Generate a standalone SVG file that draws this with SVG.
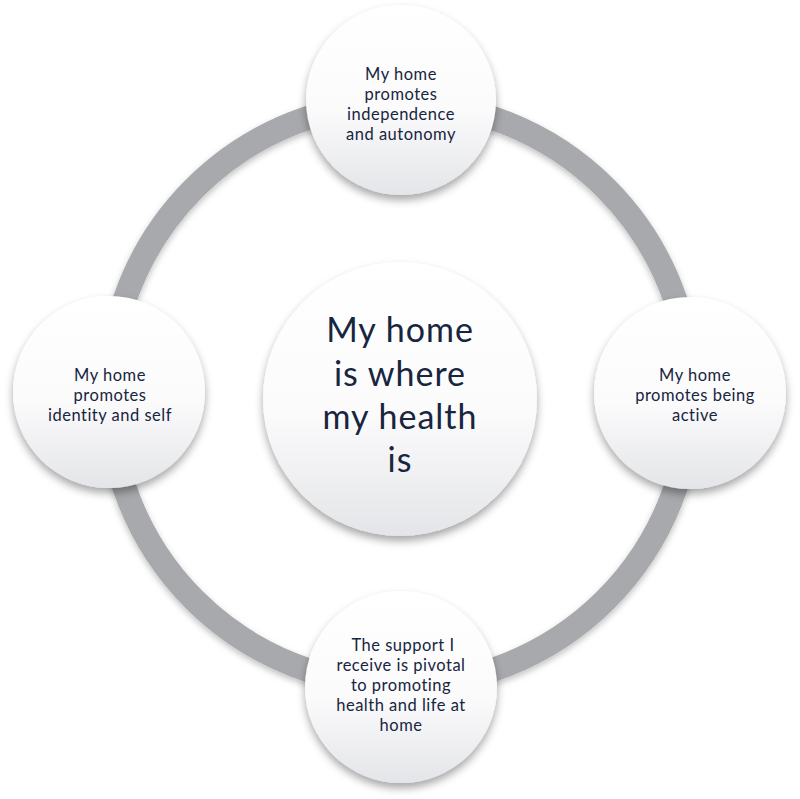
<svg xmlns="http://www.w3.org/2000/svg" width="800" height="799" viewBox="0 0 800 799">
<style>
.bubble{fill:url(#bg);filter:url(#sh);}
.t{font-family:Lato,"Open Sans","Liberation Sans",sans-serif;fill:#17253f;text-anchor:middle;font-size:16.5px;letter-spacing:0.5px;}
.big{font-size:34px;letter-spacing:1px;}
</style>
<defs>
<linearGradient id="bg" x1="0" y1="0" x2="0" y2="1">
<stop offset="0" stop-color="#ffffff"/>
<stop offset="0.55" stop-color="#fbfbfc"/>
<stop offset="1" stop-color="#e4e5e8"/>
</linearGradient>
<filter id="sh" x="-20%" y="-20%" width="140%" height="150%">
<feDropShadow dx="0" dy="5" stdDeviation="4" flood-color="#000" flood-opacity="0.35"/>
</filter>
<filter id="rsh" x="-10%" y="-10%" width="120%" height="120%">
<feDropShadow dx="0" dy="3" stdDeviation="3" flood-color="#000" flood-opacity="0.25"/>
</filter>
</defs>
<rect width="800" height="799" fill="#ffffff"/>
<g id="connectors">
<circle cx="400" cy="394" r="291" fill="none" stroke="#a8a9ac" stroke-width="24" filter="url(#rsh)"/>
</g>
<g id="node-top">
<circle class="bubble" cx="401" cy="100" r="95"/>
<text class="t" x="401" y="80"><tspan x="401">My home</tspan><tspan x="401" dy="20">promotes</tspan><tspan x="401" dy="20">independence</tspan><tspan x="401" dy="20">and autonomy</tspan></text>
</g>
<g id="node-left">
<circle class="bubble" cx="109" cy="392" r="96"/>
<text class="t" x="110" y="381"><tspan x="110">My home</tspan><tspan x="110" dy="20">promotes</tspan><tspan x="110" dy="20">identity and self</tspan></text>
</g>
<g id="node-right">
<circle class="bubble" cx="690" cy="393" r="96"/>
<text class="t" x="695" y="381"><tspan x="695">My home</tspan><tspan x="695" dy="20">promotes being</tspan><tspan x="695" dy="20">active</tspan></text>
</g>
<g id="node-bottom">
<circle class="bubble" cx="401" cy="687" r="96"/>
<text class="t" x="403" y="651"><tspan x="403">The support I</tspan><tspan x="401" dy="20">receive is pivotal</tspan><tspan x="401" dy="20">to promoting</tspan><tspan x="401" dy="20">health and life at</tspan><tspan x="401" dy="20">home</tspan></text>
</g>
<g id="node-center">
<circle class="bubble" cx="400" cy="399" r="137"/>
<text class="t big" x="400" y="342"><tspan x="400">My home</tspan><tspan x="400" dy="44">is where</tspan><tspan x="400" dy="43">my health</tspan><tspan x="400" dy="43">is</tspan></text>
</g>
</svg>
